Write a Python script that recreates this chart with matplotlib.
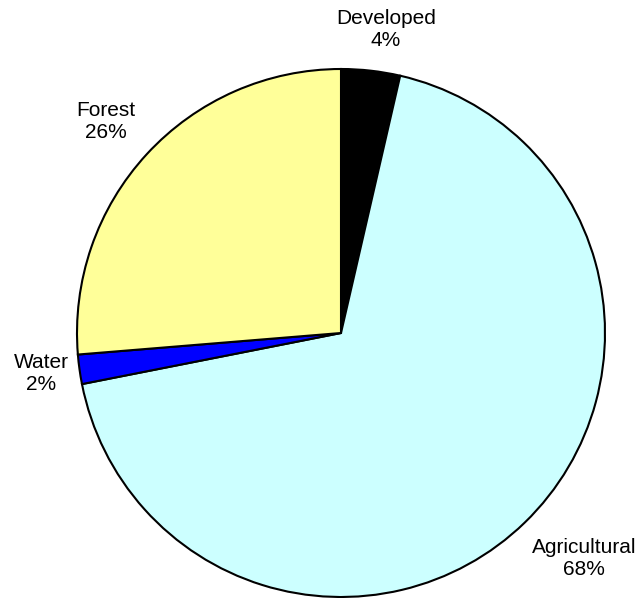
import matplotlib
matplotlib.use("Agg")
import matplotlib.pyplot as plt

labels = ["Developed", "Agricultural", "Water", "Forest"]
shares = [3.6, 68.3, 1.8, 26.3]
colors = ["#000000", "#CCFFFF", "#0000FF", "#FFFF99"]

# label centres in axes data units (pie radius = 1)
label_xy = [(0.17, 1.148), (0.92, -0.856), (-1.136, -0.152), (-0.89, 0.803)]

plt.rcParams["font.family"] = ["Liberation Sans", "DejaVu Sans"]

fig = plt.figure(figsize=(6.41, 5.98), dpi=100)
ax = fig.add_axes([0, 0, 1, 1])
ax.pie(shares, colors=colors, startangle=90, counterclock=False,
       radius=1.0, wedgeprops={"edgecolor": "black", "linewidth": 1.5})

for name, val, (x, y) in zip(labels, shares, label_xy):
    ax.text(x, y, f"{name}\n{round(val):d}%", ha="center", va="center",
            fontsize=15, linespacing=1.2, multialignment="center")

r = 264.0
ax.set_aspect("auto")
ax.set_xlim(-341 / r, 300 / r)
ax.set_ylim((333 - 598) / r, 333 / r)
ax.axis("off")

fig.savefig("out.png", dpi=100)
